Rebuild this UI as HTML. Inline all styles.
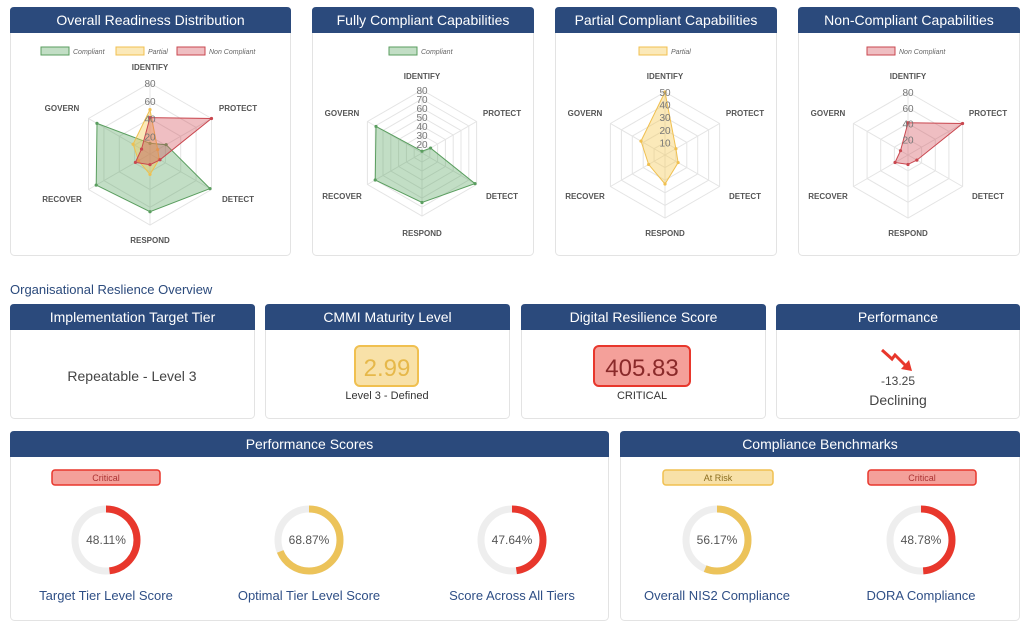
<!DOCTYPE html>
<html><head><meta charset="utf-8"><style>
body{margin:0;background:#fff;}
svg{display:block;font-family:"Liberation Sans",sans-serif;}
</style></head><body>
<svg id="s" width="1024" height="630" viewBox="0 0 1024 630" xmlns="http://www.w3.org/2000/svg"></svg>
<script>
const s=document.getElementById('s');let h='';
const HB='#2b4a7c';
function panel(x,y,w,hh,t){h+=`<rect x="${x+0.5}" y="${y+0.5}" width="${w}" height="${hh}" rx="4" fill="#fff" stroke="#e3e3e3"/>`;
h+=`<path d="M${x} ${y+26} V${y+4} Q${x} ${y} ${x+4} ${y} H${x+w-3} Q${x+w+1} ${y} ${x+w+1} ${y+4} V${y+26}Z" fill="${HB}"/>`;
h+=`<text x="${x+w/2+0.5}" y="${y+18}" fill="#fff" font-size="14" text-anchor="middle">${t}</text>`;}
panel(10,7,280,248,'Overall Readiness Distribution');
panel(312,7,221,248,'Fully Compliant Capabilities');
panel(555,7,221,248,'Partial Compliant Capabilities');
panel(798,7,221,248,'Non-Compliant Capabilities');
panel(10,304,244,114,'Implementation Target Tier');
panel(265,304,244,114,'CMMI Maturity Level');
panel(521,304,244,114,'Digital Resilience Score');
panel(776,304,243,114,'Performance');
panel(10,431,598,189,'Performance Scores');
panel(620,431,399,189,'Compliance Benchmarks');
h+=`<text x="10" y="294" fill="${HB}" font-size="13">Organisational Reslience Overview</text>`;
const G={c:'rgba(80,160,90,0.35)',cs:'#5a9e5f',p:'rgba(245,200,80,0.4)',ps:'#f0c050',n:'rgba(210,70,80,0.35)',ns:'#c9474f'};
const ang=[-90,-30,30,90,150,210].map(a=>a*Math.PI/180);
function radar(cx,cy,R,min,max,ticks,series,labY,dx){
 ticks.forEach(t=>{const r=(t-min)/(max-min)*R;h+=`<polygon points="${ang.map(a=>(cx+r*Math.cos(a)).toFixed(1)+','+(cy+r*Math.sin(a)).toFixed(1)).join(' ')}" fill="none" stroke="#e4e4e4"/>`;});
 ang.forEach(a=>{h+=`<line x1="${cx}" y1="${cy}" x2="${cx+R*Math.cos(a)}" y2="${cy+R*Math.sin(a)}" stroke="#e4e4e4"/>`;});
 series.forEach(([v,f,st])=>{const pts=v.map((x,i)=>{const r=Math.max(0,(x-min)/(max-min))*R;return [cx+r*Math.cos(ang[i]),cy+r*Math.sin(ang[i])];});
  h+=`<polygon points="${pts.map(p=>p[0].toFixed(1)+','+p[1].toFixed(1)).join(' ')}" fill="${f}" stroke="${st}" stroke-width="1"/>`;
  pts.forEach(p=>h+=`<circle cx="${p[0]}" cy="${p[1]}" r="1.6" fill="${st}"/>`);});
 ticks.forEach(t=>{const r=(t-min)/(max-min)*R;h+=`<text x="${cx}" y="${cy-r+4}" font-size="10" fill="#777" text-anchor="middle">${t}</text>`;});
 h+=`<g font-size="8" font-weight="bold" fill="#555" text-anchor="middle">`;
 h+=`<text x="${cx}" y="${labY[0]}">IDENTIFY</text><text x="${cx}" y="${labY[3]}">RESPOND</text>`;
 h+=`<text x="${cx-dx}" y="${labY[1]}">GOVERN</text><text x="${cx+dx}" y="${labY[1]}">PROTECT</text>`;
 h+=`<text x="${cx-dx}" y="${labY[2]}">RECOVER</text><text x="${cx+dx}" y="${labY[2]}">DETECT</text></g>`;
}
const C=[12,21,78,65,70,69],P=[50,10,12,23,15,22],N=[41,80,13,12,19,11];
radar(150,154,71,0,80,[20,40,60,80],[[C,G.c,G.cs],[P,G.p,G.ps],[N,G.n,G.ns]],[70,111,202,243],88);
radar(422,153,63,10,80,[20,30,40,50,60,70,80],[[C,G.c,G.cs]],[79,116,199,236],80);
radar(665,155,63,0,50,[10,20,30,40,50],[[P,G.p,G.ps]],[79,116,199,236],80);
radar(908,155,63,0,80,[20,40,60,80],[[N,G.n,G.ns]],[79,116,199,236],80);
function leg(x,y,f,st,t){h+=`<rect x="${x}" y="${y}" width="28" height="8" fill="${f}" stroke="${st}"/><text x="${x+32}" y="${y+7}" font-size="7" font-style="italic" fill="#666">${t}</text>`;}
leg(41,47,G.c,G.cs,'Compliant');leg(116,47,G.p,G.ps,'Partial');leg(177,47,G.n,G.ns,'Non Compliant');
leg(389,47,G.c,G.cs,'Compliant');leg(639,47,G.p,G.ps,'Partial');leg(867,47,G.n,G.ns,'Non Compliant');
h+=`<text x="132" y="381" font-size="14" fill="#444" text-anchor="middle">Repeatable - Level 3</text>`;
h+=`<rect x="355" y="346" width="63" height="40" rx="5" fill="#f8e1a8" stroke="#f0c050" stroke-width="2"/><text x="387" y="376" font-size="24" fill="#e6b84a" text-anchor="middle">2.99</text>`;
h+=`<text x="387" y="399" font-size="11" fill="#333" text-anchor="middle">Level 3 - Defined</text>`;
h+=`<rect x="594" y="346" width="96" height="40" rx="5" fill="#f4a09a" stroke="#e8372c" stroke-width="2"/><text x="642" y="376" font-size="24" fill="#8a2a2a" text-anchor="middle">405.83</text>`;
h+=`<text x="642" y="399" font-size="11" fill="#333" text-anchor="middle">CRITICAL</text>`;
h+=`<path d="M882 350 L892 359 L895 355 L906 366" fill="none" stroke="#e8372c" stroke-width="3"/><path d="M901 369 L912 371 L909 360Z" fill="#e8372c"/>`;
h+=`<text x="898" y="385" font-size="12" fill="#444" text-anchor="middle">-13.25</text><text x="898" y="405" font-size="14" fill="#444" text-anchor="middle">Declining</text>`;
function badge(x,w,f,st,t,tc){h+=`<rect x="${x}" y="470" width="${w}" height="15" rx="3" fill="${f}" stroke="${st}" stroke-width="1.5"/><text x="${x+w/2}" y="481" font-size="9" fill="${tc}" text-anchor="middle">${t}</text>`;}
badge(52,108,'#f4a09a','#e8372c','Critical','#a33');
badge(663,110,'#f8e1a8','#f0c050','At Risk','#8a6d20');
badge(868,108,'#f4a09a','#e8372c','Critical','#a33');
function donut(cx,v,col,lab){const r=31,cy=540,c=2*Math.PI*r;
 h+=`<circle cx="${cx}" cy="${cy}" r="${r}" fill="none" stroke="#eeeeee" stroke-width="7"/>`;
 h+=`<circle cx="${cx}" cy="${cy}" r="${r}" fill="none" stroke="${col}" stroke-width="7" stroke-dasharray="${c*v/100} ${c}" transform="rotate(-90 ${cx} ${cy})"/>`;
 h+=`<text x="${cx}" y="544" font-size="12" fill="#555" text-anchor="middle">${v.toFixed(2)}%</text>`;
 h+=`<text x="${cx}" y="600" font-size="13" fill="#2f4f86" text-anchor="middle">${lab}</text>`;}
donut(106,48.11,'#e8372c','Target Tier Level Score');
donut(309,68.87,'#ecc35a','Optimal Tier Level Score');
donut(512,47.64,'#e8372c','Score Across All Tiers');
donut(717,56.17,'#ecc35a','Overall NIS2 Compliance');
donut(921,48.78,'#e8372c','DORA Compliance');
s.innerHTML=h;
</script>
</body></html>
